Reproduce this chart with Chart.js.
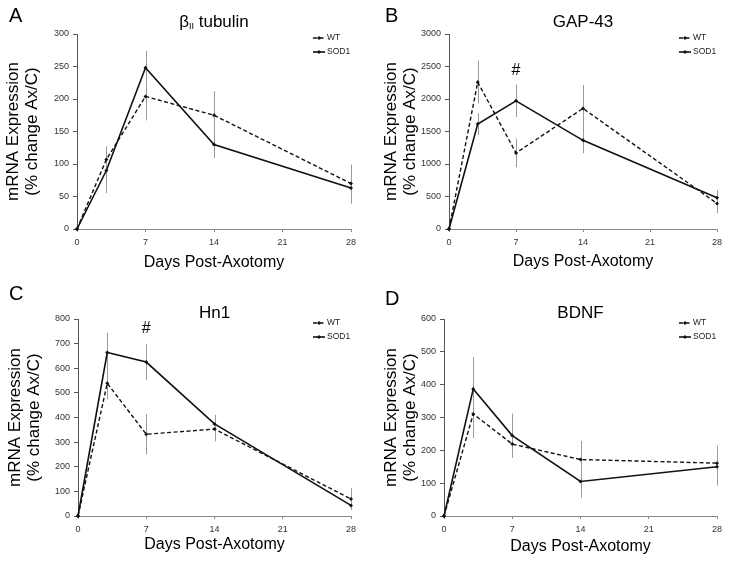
<!DOCTYPE html>
<html>
<head>
<meta charset="utf-8">
<script src="https://cdn.jsdelivr.net/npm/chart.js@4"></script>
<style>
  html, body { margin: 0; padding: 0; background: #fff; }
  #wrap { position: relative; width: 729px; height: 561px; overflow: hidden; }
  canvas { position: absolute; }
</style>
</head>
<body>
<div id="wrap">
  <canvas id="cA" width="365" height="280" style="left:0;top:0"></canvas>
  <canvas id="cB" width="365" height="280" style="left:364px;top:0"></canvas>
  <canvas id="cC" width="365" height="281" style="left:0;top:280px"></canvas>
  <canvas id="cD" width="365" height="281" style="left:364px;top:280px"></canvas>
</div>
<script>
// ── Data ──────────────────────────────────────────────────────────────────────
const days = [0, 3, 7, 14, 28];
const xTicks = [0, 7, 14, 21, 28];
const seriesNames = ['WT', 'SOD1'];

const tubWT     = [0, 107, 204, 175, 70];
const tubWTErr  = [0, 20, 37, 37, 29];
const tubSOD    = [0, 90, 248, 130, 63];
const tubSODErr = [0, 35, 26, 21, 24];

const gapWT     = [0, 2259, 1170, 1855, 393];
const gapWTErr  = [0, 330, 220, 360, 150];
const gapSOD    = [0, 1615, 1972, 1364, 480];
const gapSODErr = [0, 170, 250, 200, 120];

const hnWT      = [0, 539, 332, 353, 69];
const hnWTErr   = [0, 65, 82, 50, 44];
const hnSOD     = [0, 664, 625, 374, 43];
const hnSODErr  = [0, 80, 73, 37, 19];

const bdWT      = [0, 311, 219, 172, 161];
const bdWTErr   = [0, 73, 41, 57, 53];
const bdSOD     = [0, 387, 245, 105, 150];
const bdSODErr  = [0, 97, 67, 49, 57];

const FONT = '"Liberation Sans", Arial, sans-serif';

// ── Plugin: error bars, legend, titles, letters ──────────────────────────────
const decor = {
  id: 'decor',
  beforeDatasetsDraw(chart) {
    const ctx = chart.ctx, xs = chart.scales.x, ys = chart.scales.y;
    ctx.save();
    ctx.strokeStyle = '#9a9a9a';
    ctx.lineWidth = 1;
    chart.data.datasets.forEach(ds => {
      ds.err.forEach((e, i) => {
        if (!e) return;
        const px = Math.round(xs.getPixelForValue(days[i])) + 0.5;
        ctx.beginPath();
        ctx.moveTo(px, ys.getPixelForValue(ds.data[i].y + e));
        ctx.lineTo(px, ys.getPixelForValue(ds.data[i].y - e));
        ctx.stroke();
      });
    });
    ctx.restore();
  },
  afterDraw(chart) {
    const ctx = chart.ctx, a = chart.chartArea, o = chart.options.plugins.decor;
    ctx.save();
    ctx.fillStyle = '#000';
    // panel letter
    ctx.font = '20px ' + FONT;
    ctx.textBaseline = 'alphabetic';
    ctx.textAlign = 'left';
    ctx.fillText(o.letter, o.letterX, o.letterY);
    // title (with optional subscript)
    ctx.font = '17px ' + FONT;
    ctx.textBaseline = 'middle';
    const cx = (a.left + a.right) / 2;
    if (o.sub) {
      const w1 = ctx.measureText(o.pre).width;
      const w3 = ctx.measureText(o.post).width;
      ctx.font = '9px ' + FONT;
      const w2 = ctx.measureText(o.sub).width;
      let x = cx - (w1 + w2 + w3) / 2;
      ctx.font = '17px ' + FONT;
      ctx.fillText(o.pre, x, o.titleY);
      x += w1;
      ctx.font = '9px ' + FONT;
      ctx.fillText(o.sub, x, o.titleY + 5);
      x += w2;
      ctx.font = '17px ' + FONT;
      ctx.fillText(o.post, x, o.titleY);
    } else {
      ctx.textAlign = 'center';
      ctx.fillText(o.title, cx, o.titleY);
    }
    // significance mark
    if (o.hash) {
      ctx.font = '16px ' + FONT;
      ctx.textAlign = 'center';
      ctx.fillText('#', chart.scales.x.getPixelForValue(o.hash[0]), chart.scales.y.getPixelForValue(o.hash[1]));
    }
    // legend
    ctx.font = '8.5px ' + FONT;
    ctx.textAlign = 'left';
    ctx.fillStyle = '#222';
    chart.data.datasets.forEach((ds, i) => {
      const y = a.top + 4 + i * 14;
      const x0 = a.right - 38, x1 = a.right - 26;
      ctx.strokeStyle = '#111';
      ctx.lineWidth = ds.borderWidth;
      ctx.setLineDash(ds.borderDash || []);
      ctx.beginPath(); ctx.moveTo(x0, y); ctx.lineTo(x1, y); ctx.stroke();
      ctx.setLineDash([]);
      ctx.fillStyle = '#111';
      ctx.beginPath();
      const mx = (x0 + x1) / 2;
      ctx.moveTo(mx, y - 2); ctx.lineTo(mx + 2, y); ctx.lineTo(mx, y + 2); ctx.lineTo(mx - 2, y);
      ctx.fill();
      ctx.fillStyle = '#222';
      ctx.fillText(ds.label, a.right - 24, y);
    });
    ctx.restore();
  }
};

function makeDs(label, vals, err, dashed) {
  return {
    label,
    data: days.map((d, i) => ({ x: d, y: vals[i] })),
    err,
    borderColor: '#111',
    backgroundColor: '#111',
    borderWidth: dashed ? 1.4 : 1.6,
    borderDash: dashed ? [4, 2.5] : [],
    pointStyle: 'rectRot',
    pointRadius: 2,
    pointBorderWidth: 0,
    tension: 0,
    clip: false
  };
}

function makeChart(id, p) {
  return new Chart(document.getElementById(id), {
    type: 'line',
    data: {
      datasets: [
        makeDs(seriesNames[0], p.wt, p.wtErr, true),
        makeDs(seriesNames[1], p.sod, p.sodErr, false)
      ]
    },
    options: {
      responsive: false,
      animation: false,
      devicePixelRatio: 1,
      layout: { padding: { left: 0, right: p.padR, top: p.padT, bottom: 0 } },
      plugins: {
        legend: { display: false },
        tooltip: { enabled: false },
        decor: p.decor
      },
      scales: {
        x: {
          type: 'linear', min: 0, max: 28,
          afterBuildTicks: s => { s.ticks = xTicks.map(v => ({ value: v })); },
          afterFit: s => { s.height = p.xH; },
          grid: { display: true, drawOnChartArea: false, drawTicks: true, tickLength: 3, color: '#888' },
          border: { display: true, color: '#888', width: 1 },
          ticks: { color: '#333', font: { family: FONT, size: 9 }, padding: 5, maxRotation: 0,
                   callback: v => String(v) },
          title: { display: true, text: 'Days Post-Axotomy', color: '#000',
                   font: { family: FONT, size: 16, lineHeight: 1.2 }, padding: { top: 0, bottom: p.xTitlePad } }
        },
        y: {
          min: 0, max: p.yMax,
          afterFit: s => { s.width = p.yW; },
          grid: { display: true, drawOnChartArea: false, drawTicks: true, tickLength: 4, color: '#555' },
          border: { display: true, color: '#555', width: 1 },
          ticks: { color: '#333', stepSize: p.yStep, font: { family: FONT, size: 9 }, padding: 4,
                   callback: v => String(v) },
          title: { display: true, text: ['mRNA Expression', '(% change Ax/C)'], color: '#000',
                   font: { family: FONT, size: 17, lineHeight: 1.12 }, padding: { top: p.yTitlePad, bottom: 0 } }
        }
      }
    },
    plugins: [decor]
  });
}

makeChart('cA', {
  wt: tubWT, wtErr: tubWTErr, sod: tubSOD, sodErr: tubSODErr,
  yMax: 300, yStep: 50, yW: 77, xH: 51, padR: 14, padT: 34, xTitlePad: 7.4, yTitlePad: 3.5,
  decor: { letter: 'A', letterX: 9, letterY: 22, pre: 'β', sub: 'II', post: ' tubulin', titleY: 22 }
});
makeChart('cB', {
  wt: gapWT, wtErr: gapWTErr, sod: gapSOD, sodErr: gapSODErr,
  yMax: 3000, yStep: 500, yW: 85, xH: 51, padR: 12, padT: 34, xTitlePad: 8.4, yTitlePad: 17.5,
  decor: { letter: 'B', letterX: 21, letterY: 22, title: 'GAP-43', titleY: 22, hash: [7, 2443] }
});
makeChart('cC', {
  wt: hnWT, wtErr: hnWTErr, sod: hnSOD, sodErr: hnSODErr,
  yMax: 800, yStep: 100, yW: 78, xH: 45, padR: 14, padT: 39, xTitlePad: 6.4, yTitlePad: 5.5,
  decor: { letter: 'C', letterX: 9, letterY: 20, title: 'Hn1', titleY: 33, hash: [7, 763] }
});
makeChart('cD', {
  wt: bdWT, wtErr: bdWTErr, sod: bdSOD, sodErr: bdSODErr,
  yMax: 600, yStep: 100, yW: 80, xH: 45, padR: 12, padT: 39, xTitlePad: 4.4, yTitlePad: 17.5,
  decor: { letter: 'D', letterX: 21, letterY: 25, title: 'BDNF', titleY: 33 }
});
</script>
</body>
</html>
